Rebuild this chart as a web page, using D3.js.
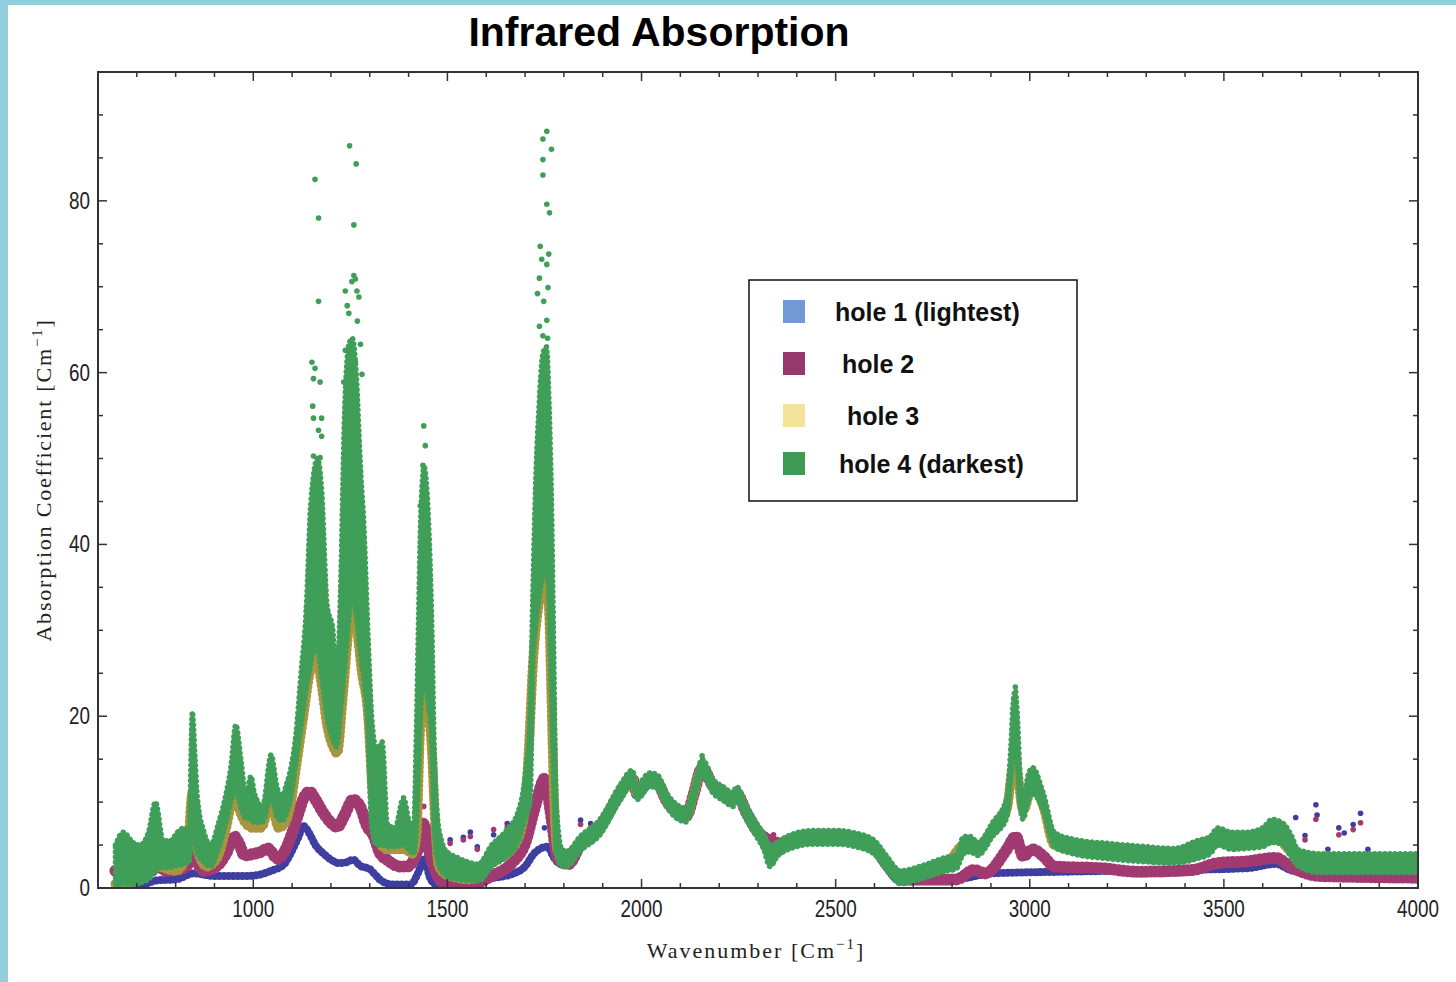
<!DOCTYPE html>
<html>
<head>
<meta charset="utf-8">
<script src="https://cdn.jsdelivr.net/npm/d3@7"></script>
<style>
  body { margin: 0; background: #fff; }
  svg { display: block; }
</style>
</head>
<body>
<svg id="chart" width="1456" height="982"></svg>
<script>
// wavenumber / absorption pairs
var hole1 = [[645,0.3],[700,0.3],[755,0.9],[800,1.0],[847,1.7],[898,1.4],[985,1.4],[1046,2.0],[1080,2.8],[1097,4.1],[1115,5.8],[1130,7.2],[1145,6.3],[1160,5.0],[1181,4.0],[1200,3.3],[1220,2.9],[1240,3.0],[1257,3.3],[1275,2.6],[1300,2.2],[1315,1.5],[1328,0.9],[1360,0.4],[1405,0.4],[1425,1.8],[1441,3.5],[1455,1.2],[1475,0.3],[1540,0.3],[1610,1.1],[1671,1.7],[1700,2.5],[1723,4],[1757,4.8],[1775,3.5],[1791,2.8],[1815,3.5],[1842,5],[1893,7.1],[1945,11],[1976,12.8],[1988,11],[2021,12.5],[2040,12.3],[2064,10.2],[2098,8.6],[2115,8.4],[2135,11],[2156,14],[2185,11.8],[2210,11],[2236,10.3],[2244,11],[2271,8.7],[2300,6.5],[2314,5.6],[2331,4],[2350,5],[2374,5.2],[2443,5.9],[2504,5.9],[2550,5.6],[2598,4.8],[2630,2.5],[2667,0.8],[2700,0.8],[2810,1.0],[2904,1.7],[3091,1.9],[3372,2.1],[3559,2.3],[3634,2.8],[3671,2.1],[3746,1.6],[4000,1.4]];

var hole2 = [[645,2],[700,2.2],[740,2],[755,3.3],[770,2],[814,2.2],[835,3],[843,7.5],[852,3.5],[873,2],[907,2.6],[930,4],[951,6],[965,5],[977,3.8],[1003,4],[1020,4.2],[1037,4.6],[1063,3.4],[1080,4.2],[1097,6],[1115,8.5],[1130,10.5],[1145,11.2],[1160,10.3],[1181,8.7],[1200,7.6],[1216,7.1],[1235,8.5],[1257,10.3],[1275,9.5],[1294,7.1],[1309,6.2],[1327,4],[1344,3.3],[1379,2.5],[1396,2.5],[1421,4.1],[1439,7.5],[1452,4.5],[1468,2.1],[1493,0.5],[1562,0.4],[1614,1.4],[1666,2.9],[1700,5.2],[1726,9.5],[1752,12.8],[1765,9.1],[1786,3.3],[1812,2.8],[1842,5],[1893,7.1],[1945,11],[1976,12.8],[1988,11],[2021,12.5],[2040,12.3],[2064,10.2],[2098,8.6],[2115,8.4],[2135,11],[2156,14],[2185,11.8],[2210,11],[2236,10.3],[2244,11],[2271,8.7],[2300,6.5],[2320,5.8],[2340,5.4],[2360,5.2],[2374,5.2],[2443,5.9],[2504,5.9],[2550,5.6],[2598,4.8],[2630,2.8],[2669,1.0],[2810,1.0],[2857,2.1],[2885,1.7],[2941,4.5],[2964,6.0],[2983,3.7],[3007,4.5],[3035,3.7],[3063,2.5],[3184,2.3],[3278,1.9],[3419,2.1],[3484,2.9],[3559,3.1],[3634,3.5],[3671,2.5],[3746,1.4],[4000,1.2]];

var hole3 = [[645,0.5],[700,0.8],[750,2.5],[800,2],[830,4],[843,11],[856,4.5],[880,2.5],[907,3.5],[930,7],[951,11],[965,9],[981,7.5],[1000,7],[1020,7],[1046,10],[1065,7],[1081,7.5],[1097,10],[1110,14],[1129,20],[1145,25],[1160,27.4],[1175,24],[1190,19],[1205,16.5],[1216,15.7],[1230,22],[1245,30],[1255,33.8],[1265,31],[1280,25],[1294,21],[1310,9.4],[1327,5.2],[1345,4.5],[1390,4.5],[1410,4],[1420,6],[1430,19],[1438,23.9],[1450,21],[1460,16],[1468,8],[1478,2.5],[1500,1.5],[1560,1],[1614,3],[1666,4.5],[1696,8],[1709,15.6],[1721,26.6],[1735,33],[1752,37],[1762,32],[1768,22],[1775,10],[1783,4.5],[1808,3.2],[1842,5],[1893,7],[1945,11],[1976,12.8],[1988,11],[2021,12.5],[2040,12.3],[2064,10.2],[2098,8.6],[2115,8.4],[2135,11],[2156,14],[2185,11.8],[2210,11],[2236,10.3],[2244,11],[2271,8.7],[2300,6.5],[2314,5.6],[2331,3.8],[2350,4.5],[2374,5.2],[2443,5.9],[2504,5.9],[2550,5.6],[2598,4.8],[2630,3],[2667,1.2],[2716,1.7],[2787,2.8],[2830,5],[2866,4.5],[2904,6.8],[2941,9.2],[2955,14],[2963,15.3],[2970,13],[2983,9],[3007,12],[3035,9.5],[3063,5],[3110,4.5],[3278,4],[3372,3.7],[3484,5.5],[3559,5.3],[3625,6],[3690,3.5],[3746,2.8],[4000,2.8]];

// hole 4 is a wide noisy band: [wavenumber, low, high]
var hole4 = [[645,0.2,5],[665,0.5,6.5],[690,0.4,5.3],[708,0.6,5],[730,1,6.5],[748,2,10],[768,2.4,5.5],[786,2.4,5.5],[805,2.6,6.5],[822,2.8,7],[835,3,6.5],[843,11.6,20.5],[850,5,15],[856,4,10.5],[873,3,6.5],[890,2.5,5],[910,4.5,7.5],[930,7.6,11],[942,9.9,14],[955,11.3,19],[968,9.3,15],[981,8.1,10.8],[994,8,13],[1003,7.6,11],[1024,7.7,9.5],[1046,10.6,15.5],[1060,8.4,12],[1072,7.8,10.5],[1085,8.6,12],[1097,10.6,14],[1110,14.6,18],[1121,18.1,24],[1138,23.6,34],[1147,25.8,44],[1155,27.5,48],[1165,27.8,50],[1175,24.8,47],[1190,19.8,33],[1205,17.2,30],[1215,16.4,24],[1225,20.5,35],[1235,25.4,55],[1245,30.6,63],[1255,34.4,64],[1265,31.6,60],[1275,27.6,50],[1285,24,42],[1295,19,30],[1305,7,20],[1318,5,16],[1332,5,17],[1345,4.8,7.5],[1365,4.8,7],[1387,5,10.5],[1400,4.5,8],[1413,4,6.5],[1420,6.6,18],[1426,14,32],[1432,21.2,44],[1440,24.5,49],[1450,21.6,44],[1460,16.6,30],[1466,7,16],[1475,3,8],[1485,2,5.5],[1493,1.5,4.5],[1528,1,3.5],[1580,0.8,2.8],[1614,2.5,5],[1648,3.5,6.5],[1683,5.5,9],[1700,8,13],[1713,10,20],[1720,26,34],[1728,30.6,48],[1736,33.6,56],[1745,36.1,62],[1755,37.6,63],[1762,32.6,56],[1768,22.6,45],[1773,13.6,30],[1780,4,10],[1795,2.5,4.5],[1808,2.5,4.3],[1842,4.3,6],[1893,6.2,8],[1945,10.2,12],[1976,12,13.7],[1988,10.3,12],[2021,11.8,13.4],[2040,11.6,13.2],[2064,9.5,11.1],[2098,7.9,9.5],[2115,7.7,9.3],[2135,10.2,11.8],[2156,13.2,15],[2185,11,12.6],[2210,10.2,11.8],[2236,9.5,11.1],[2244,10.2,11.8],[2271,7.9,9.5],[2300,5.7,7.3],[2314,4.6,6.4],[2331,2.5,5],[2350,3.7,5.3],[2374,4.4,6],[2443,5.1,6.7],[2504,5.1,6.7],[2550,4.8,6.4],[2598,4,5.6],[2630,2.2,3.8],[2667,0.5,2],[2716,1,2.5],[2787,2,3.6],[2810,2.2,3.8],[2830,4,6],[2847,4.2,6],[2866,3.8,5.3],[2904,6,7.6],[2941,8.2,10.5],[2952,13,17],[2958,15.6,22],[2963,15.9,23],[2968,14.2,20],[2975,9.5,13],[2983,8,10],[2995,10,13],[3007,11,14],[3035,9,11],[3063,4.8,6.5],[3110,4,5.7],[3200,3.4,5.2],[3278,3.1,4.9],[3372,2.9,4.6],[3430,3.4,5.5],[3465,4,6],[3484,5,7],[3520,4.5,6.5],[3559,4.6,6.5],[3600,4.8,7],[3625,5.3,8],[3653,5,7.5],[3675,3.5,6],[3690,2.6,4.5],[3746,1.8,4],[3840,1.8,4],[3920,1.8,4],[4000,1.8,4]];

// loose points above the bands
var hole1Spikes = [[1507,5.6],[1541,5.9],[1559,6.5],[1577,4.8],[1619,6.2],[1654,7.5],[1750,7.0],[1843,7.9],[1869,7.5],[3685,8.2],[3709,6.1],[3737,9.7],[3740,8.5],[3768,4.5],[3796,7.0],[3810,6.4],[3833,7.4],[3852,8.7],[3871,4.5]];
var hole2Spikes = [[1439,9.5],[1507,5.2],[1541,5.6],[1559,6.0],[1577,4.5],[1619,6.8],[1654,7.1],[1843,7.4],[1869,7.0],[2340,6.2],[3709,5.6],[3737,8.0],[3796,6.2],[3833,6.8],[3852,7.6]];
var hole4Spikes = [[1159,82.5],[1168,78.0],[1168,68.3],[1151,61.2],[1159,60.5],[1155,59.3],[1172,58.9],[1153,56.1],[1155,54.7],[1176,54.7],[1168,53.3],[1176,52.6],[1155,50.3],[1172,50.1],
    [1248,86.4],[1265,84.3],[1259,77.2],[1259,71.3],[1263,70.9],[1254,70.6],[1237,69.5],[1267,69.5],[1272,68.8],[1242,67.8],[1246,66.9],[1268,66.0],[1276,63.3],[1237,62.6],[1263,61.2],[1251,60.7],[1280,59.8],[1233,58.9],
    [1439,53.8],[1443,51.5],[1437,49.2],[1446,46],[1430,44.5],
    [1756,88.1],[1746,87.2],[1768,86.0],[1746,84.8],[1746,83.0],[1756,79.6],[1763,78.6],[1739,74.7],[1761,73.8],[1743,73.2],[1756,72.6],[1737,71.0],[1759,69.9],[1732,69.2],[1748,68.3],[1756,66.1],[1737,65.4],[1746,64.3],[1758,64.0],
    [2156,15.4],[2963,23.4]];

var xTicks = [1000, 1500, 2000, 2500, 3000, 3500, 4000];
var yTicks = [0, 20, 40, 60, 80];

var legendLabels = ["hole 1 (lightest)", "hole 2", "hole 3", "hole 4 (darkest)"];
var legendSwatch = ["#7299d3", "#97386d", "#f5e29b", "#3f9b54"];
var seriesColor = {h1: "#3e3da0", h2: "#a23a72", h3: "#a8963f", h4: "#3f9e58"};

var svg = d3.select("#chart");
var margin = {top: 72, right: 38, bottom: 94, left: 98};
var W = +svg.attr("width"), H = +svg.attr("height");
var pw = W - margin.left - margin.right, ph = H - margin.top - margin.bottom;

// light blue frame of the screenshot
svg.append("rect").attr("x", 0).attr("y", 0).attr("width", W).attr("height", 5).attr("fill", "#92cdde");
svg.append("rect").attr("x", 0).attr("y", 0).attr("width", 8).attr("height", H).attr("fill", "#92cdde");

svg.append("text")
    .attr("x", 659).attr("y", 46)
    .attr("text-anchor", "middle")
    .style("font-family", "'Liberation Sans', Arial, sans-serif")
    .style("font-weight", "bold")
    .style("font-size", "41px")
    .text("Infrared Absorption");

var x = d3.scaleLinear().domain([600, 4000]).range([0, pw]);
var y = d3.scaleLinear().domain([0, 95]).range([ph, 0]);

var g = svg.append("g").attr("transform", "translate(" + margin.left + "," + margin.top + ")");

g.append("clipPath").attr("id", "clip")
  .append("rect").attr("width", pw).attr("height", ph);

var plot = g.append("g").attr("clip-path", "url(#clip)");

var line = d3.line()
    .x(function(d) { return x(d[0]); })
    .y(function(d) { return y(d[1]); })
    .curve(d3.curveMonotoneX);

var band = d3.area()
    .x(function(d) { return x(d[0]); })
    .y0(function(d) { return y(d[1]); })
    .y1(function(d) { return y(d[2]); })
    .curve(d3.curveMonotoneX);

// solid core plus a dotted rim, so the band edges look like the plotted points
function drawLine(data, color, w) {
    plot.append("path").datum(data)
        .attr("d", line)
        .attr("fill", "none")
        .attr("stroke", color)
        .attr("stroke-width", w)
        .attr("stroke-linejoin", "round")
        .attr("stroke-linecap", "round");
    plot.append("path").datum(data)
        .attr("d", line)
        .attr("fill", "none")
        .attr("stroke", color)
        .attr("stroke-width", w + 3)
        .attr("stroke-dasharray", "0.1 4.5")
        .attr("stroke-linecap", "round");
}

function drawDots(data, color) {
    plot.append("g").selectAll("circle")
        .data(data)
        .enter().append("circle")
        .attr("cx", function(d) { return x(d[0]); })
        .attr("cy", function(d) { return y(d[1]); })
        .attr("r", 2.8)
        .attr("fill", color);
}

drawLine(hole1, seriesColor.h1, 5);
drawDots(hole1Spikes, seriesColor.h1);
drawLine(hole2, seriesColor.h2, 9);
drawDots(hole2Spikes, seriesColor.h2);
drawLine(hole3, seriesColor.h3, 7);

plot.append("path").datum(hole4)
    .attr("d", band)
    .attr("fill", seriesColor.h4)
    .attr("stroke", seriesColor.h4)
    .attr("stroke-width", 2)
    .attr("stroke-linejoin", "round");
plot.append("path").datum(hole4)
    .attr("d", band)
    .attr("fill", "none")
    .attr("stroke", seriesColor.h4)
    .attr("stroke-width", 5.5)
    .attr("stroke-dasharray", "0.1 5")
    .attr("stroke-linecap", "round");
drawDots(hole4Spikes, seriesColor.h4);

// frame with inward ticks on all four sides
g.append("rect")
    .attr("width", pw).attr("height", ph)
    .attr("fill", "none")
    .attr("stroke", "#333")
    .attr("stroke-width", 2);

var xMinor = d3.range(700, 4000, 100);
var yMinor = d3.range(5, 95, 5);

function tickLen(isMajor) { return isMajor ? 9 : 5; }

xMinor.concat([4000]).forEach(function(v) {
    var major = xTicks.indexOf(v) >= 0, L = tickLen(major);
    g.append("line").attr("x1", x(v)).attr("x2", x(v)).attr("y1", ph).attr("y2", ph - L).attr("stroke", "#333").attr("stroke-width", 1.5);
    g.append("line").attr("x1", x(v)).attr("x2", x(v)).attr("y1", 0).attr("y2", L).attr("stroke", "#333").attr("stroke-width", 1.5);
});
yMinor.forEach(function(v) {
    var major = yTicks.indexOf(v) >= 0, L = tickLen(major);
    g.append("line").attr("y1", y(v)).attr("y2", y(v)).attr("x1", 0).attr("x2", L).attr("stroke", "#333").attr("stroke-width", 1.5);
    g.append("line").attr("y1", y(v)).attr("y2", y(v)).attr("x1", pw).attr("x2", pw - L).attr("stroke", "#333").attr("stroke-width", 1.5);
});

// narrow tick numerals, squeezed horizontally
var tickFont = "'Liberation Sans', Arial, sans-serif";

g.selectAll(".xlab").data(xTicks).enter().append("text")
    .attr("class", "xlab")
    .attr("transform", function(d) { return "translate(" + x(d) + "," + (ph + 29) + ") scale(0.82,1)"; })
    .attr("text-anchor", "middle")
    .style("font-family", tickFont)
    .style("font-size", "23px")
    .attr("fill", "#222")
    .text(function(d) { return d; });

g.selectAll(".ylab").data(yTicks).enter().append("text")
    .attr("class", "ylab")
    .attr("transform", function(d) { return "translate(-8," + (y(d) + 8) + ") scale(0.82,1)"; })
    .attr("text-anchor", "end")
    .style("font-family", tickFont)
    .style("font-size", "23px")
    .attr("fill", "#222")
    .text(function(d) { return d; });

// axis titles
var serif = "'Liberation Serif', 'Times New Roman', serif";
var xt = svg.append("text")
    .attr("x", 756).attr("y", 958)
    .attr("text-anchor", "middle")
    .style("font-family", serif)
    .style("font-size", "22px")
    .style("letter-spacing", "2px")
    .attr("fill", "#222");
xt.append("tspan").text("Wavenumber [Cm");
xt.append("tspan").attr("dy", -9).style("font-size", "15px").text("\u22121");
xt.append("tspan").attr("dy", 9).text("]");

var yt = svg.append("text")
    .attr("transform", "translate(51,480) rotate(-90)")
    .attr("text-anchor", "middle")
    .style("font-family", serif)
    .style("font-size", "22px")
    .style("letter-spacing", "1.8px")
    .attr("fill", "#222");
yt.append("tspan").text("Absorption Coefficient [Cm");
yt.append("tspan").attr("dy", -9).style("font-size", "15px").text("\u22121");
yt.append("tspan").attr("dy", 9).text("]");

// legend box
var leg = svg.append("g").attr("transform", "translate(749,280)");
leg.append("rect")
    .attr("width", 328).attr("height", 221)
    .attr("fill", "#fff")
    .attr("stroke", "#111")
    .attr("stroke-width", 1.5);

var legRowY = [41, 93, 145, 193];
var legTextX = [86, 93, 98, 90];
legendLabels.forEach(function(lbl, i) {
    leg.append("rect")
        .attr("x", 34).attr("y", legRowY[i] - 21)
        .attr("width", 22).attr("height", 23)
        .attr("fill", legendSwatch[i]);
    leg.append("text")
        .attr("x", legTextX[i]).attr("y", legRowY[i])
        .style("font-family", "'Liberation Sans', Arial, sans-serif")
        .style("font-weight", "bold")
        .style("font-size", "25px")
        .attr("fill", "#111")
        .text(lbl);
});
</script>
</body>
</html>
